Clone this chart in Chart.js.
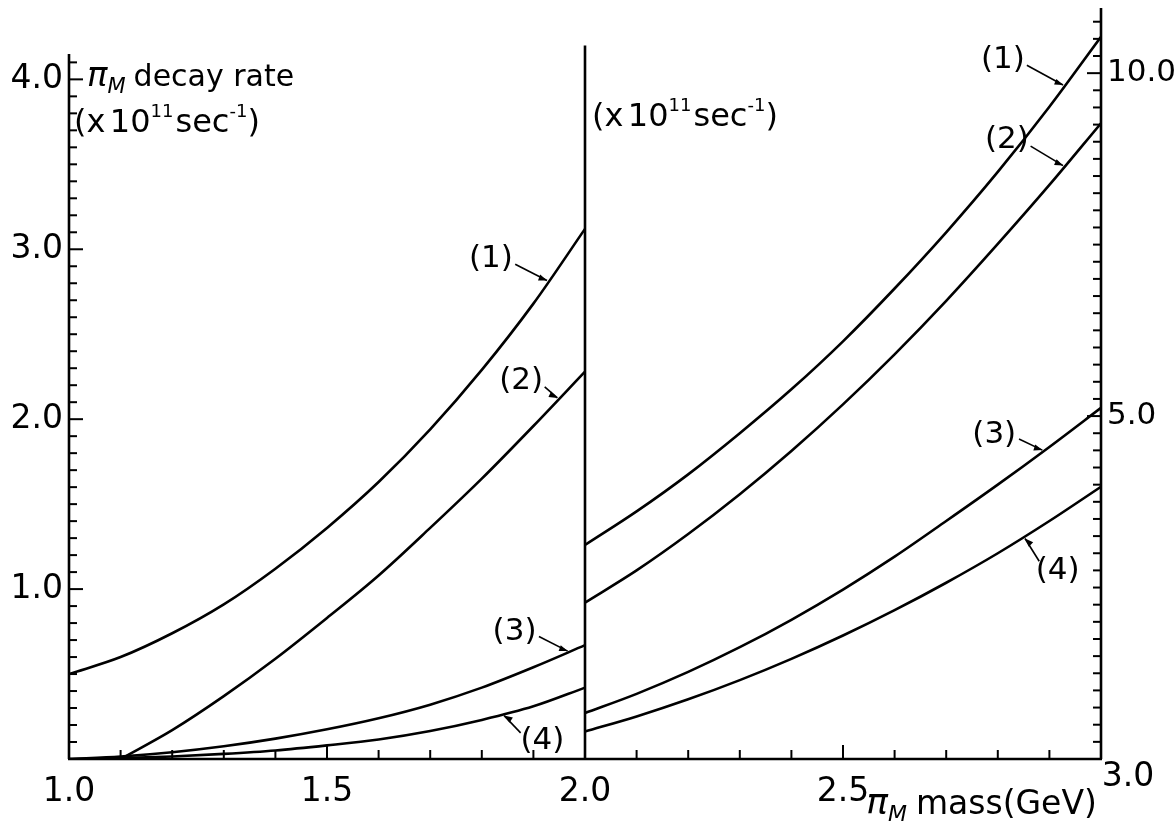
<!DOCTYPE html>
<html>
<head>
<meta charset="utf-8">
<script src="https://cdn.jsdelivr.net/npm/chart.js@4.4.0/dist/chart.umd.min.js"></script>
<style>
  html, body { margin: 0; padding: 0; background: #fff; }
  #wrap { position: relative; width: 1175px; height: 833px; }
</style>
</head>
<body>
<div id="wrap"><canvas id="decayChart"></canvas></div>
<script>
// pi_M mass (GeV) for the two halves of the plot
const massLow = [1.0, 1.1, 1.2, 1.3, 1.4, 1.5, 1.6, 1.7, 1.8, 1.9, 2.0];
const massHigh = [2.0, 2.1, 2.2, 2.3, 2.4, 2.5, 2.6, 2.7, 2.8, 2.9, 3.0];

// decay rates (x 10^11 sec^-1), left half read on the left axis
const rate1Low = [0.50, 0.60, 0.74, 0.91, 1.12, 1.36, 1.63, 1.94, 2.29, 2.68, 3.12];
const rate2Low = [null, 0.00, 0.17, 0.37, 0.59, 0.83, 1.08, 1.36, 1.65, 1.96, 2.28];
const rate3Low = [0.00, 0.015, 0.04, 0.075, 0.12, 0.175, 0.24, 0.32, 0.42, 0.54, 0.67];
const rate4Low = [0.00, 0.005, 0.015, 0.03, 0.05, 0.08, 0.115, 0.165, 0.23, 0.31, 0.42];

// right half read on the right axis
const rate1High = [3.12, 3.61, 4.15, 4.75, 5.39, 6.09, 6.86, 7.68, 8.56, 9.51, 10.53];
const rate2High = [2.28, 2.75, 3.28, 3.86, 4.49, 5.17, 5.90, 6.68, 7.51, 8.37, 9.27];
const rate3High = [0.67, 0.95, 1.27, 1.63, 2.03, 2.47, 2.95, 3.47, 4.00, 4.55, 5.12];
const rate4High = [0.40, 0.62, 0.87, 1.15, 1.46, 1.80, 2.17, 2.57, 3.00, 3.47, 3.97];

const curveNames = ['(1)', '(2)', '(3)', '(4)'];
const xTicks = [1.0, 1.5, 2.0, 2.5, 3.0];
const leftTicks = [1.0, 2.0, 3.0, 4.0];
const rightTicks = [5.0, 10.0];

// axis ranges
const X_MIN = 1.0, X_MAX = 3.0, X_SPLIT = 2.0;
const LEFT_MAX = 4.42, RIGHT_MAX = 10.95;

const FONT = "'DejaVu Sans', sans-serif";

// where the (n) tags sit relative to their curve
const tagLayout = [
    { half: 'low', curve: 0, at: 1.93, dx: -58, dy: -22 },
    { half: 'low', curve: 1, at: 1.95, dx: -38, dy: -18 },
    { half: 'low', curve: 2, at: 1.97, dx: -55, dy: -20 },
    { half: 'low', curve: 3, at: 1.84, dx: 40, dy: 26 },
    { half: 'high', curve: 0, at: 2.93, dx: -62, dy: -26 },
    { half: 'high', curve: 1, at: 2.93, dx: -58, dy: -26 },
    { half: 'high', curve: 2, at: 2.89, dx: -50, dy: -16 },
    { half: 'high', curve: 3, at: 2.85, dx: 34, dy: 34 }
];

const lowRates = [rate1Low, rate2Low, rate3Low, rate4Low];
const highRates = [rate1High, rate2High, rate3High, rate4High];

const toPoints = (xs, ys) => xs.map((m, i) => ({ x: m, y: ys[i] }));

const curveStyle = {
    borderColor: '#000',
    borderWidth: 2.6,
    pointRadius: 0,
    fill: false,
    cubicInterpolationMode: 'monotone'
};

const datasets = [];
lowRates.forEach((r, i) => datasets.push({
    label: curveNames[i] + ' low', data: toPoints(massLow, r), yAxisID: 'y', ...curveStyle
}));
highRates.forEach((r, i) => datasets.push({
    label: curveNames[i] + ' high', data: toPoints(massHigh, r), yAxisID: 'y2', ...curveStyle
}));

// read a value off a curve at mass m (linear between tabulated points)
function rateAt(xs, ys, m) {
    for (let i = 0; i < xs.length - 1; i++) {
        if (m >= xs[i] && m <= xs[i + 1]) {
            const a = ys[i] == null ? 0 : ys[i];
            const t = (m - xs[i]) / (xs[i + 1] - xs[i]);
            return a + t * (ys[i + 1] - a);
        }
    }
    return ys[ys.length - 1];
}

// draw a run of text pieces: {t, size, italic, dy}
function drawRich(ctx, parts, x, y) {
    let cx = x;
    parts.forEach(p => {
        ctx.font = (p.italic ? 'italic ' : '') + p.size + 'px ' + FONT;
        ctx.fillText(p.t, cx, y + (p.dy || 0));
        cx += ctx.measureText(p.t).width + (p.gap || 0);
    });
}

const unitParts = [
    { t: '(x', size: 32 }, { t: ' ', size: 14 }, { t: '10', size: 32 },
    { t: '11', size: 18, dy: -15, gap: 2 }, { t: 'sec', size: 32 },
    { t: '-1', size: 18, dy: -15 }, { t: ')', size: 32 }
];

// drop the label half-heights Chart.js reserves at the axis ends
const noEndPadding = s => {
    s.paddingTop = 0; s.paddingBottom = 0; s.paddingLeft = 0; s.paddingRight = 0;
};

const tickFont = { family: FONT, size: 33 };

const paperPlugin = {
    id: 'paper',
    afterDraw(chart) {
        const { ctx, scales: { x, y, y2 } } = chart;
        const px = v => x.getPixelForValue(v);
        const pyL = v => y.getPixelForValue(v);
        const pyR = v => y2.getPixelForValue(v);
        const seg = (x1, y1, x2, y2_) => {
            ctx.beginPath(); ctx.moveTo(x1, y1); ctx.lineTo(x2, y2_); ctx.stroke();
        };

        ctx.save();
        ctx.strokeStyle = '#000';
        ctx.fillStyle = '#000';
        ctx.lineCap = 'butt';

        // frame lines
        ctx.lineWidth = 2.6;
        const x0 = px(X_MIN), x1 = px(X_MAX), xs = px(X_SPLIT), yb = pyL(0);
        seg(x0 - 1, yb, x1 + 1, yb);
        seg(x0, yb, x0, pyL(4.15));
        seg(x1, yb, x1, pyR(RIGHT_MAX));
        seg(xs, yb, xs, pyL(4.2));

        // inward ticks
        ctx.lineWidth = 2;
        for (let k = 1; k <= 41; k++) {
            const v = k / 10, len = k % 10 === 0 ? 14 : 8;
            seg(x0, pyL(v), x0 + len, pyL(v));
        }
        for (let k = 1; k <= 43; k++) {
            const v = k / 4, len = k % 20 === 0 ? 14 : 8;
            seg(x1, pyR(v), x1 - len, pyR(v));
        }
        for (let k = 1; k < 20; k++) {
            if (k === 10) continue;
            const v = X_MIN + k / 10, len = k % 5 === 0 ? 14 : 9;
            seg(px(v), yb, px(v), yb - len);
        }

        // last x label sits up and to the right of its tick, clear of the caption
        ctx.font = tickFont.size + 'px ' + FONT;
        ctx.textAlign = 'center';
        ctx.textBaseline = 'top';
        const lastX = xTicks[xTicks.length - 1];
        ctx.fillText(lastX.toFixed(1), px(lastX) + 27, yb + 2);

        // axis captions
        ctx.textBaseline = 'alphabetic';
        ctx.textAlign = 'left';
        drawRich(ctx, [
            { t: 'π', size: 34, italic: true },
            { t: 'M', size: 21, italic: true, dy: 7, gap: 8 },
            { t: 'decay rate', size: 30 }
        ], x0 + 18, pyL(4.0) + 7);
        drawRich(ctx, unitParts, x0 + 5, pyL(4.0) + 53);
        drawRich(ctx, unitParts, xs + 7, pyL(4.0) + 47);
        drawRich(ctx, [
            { t: 'π', size: 36, italic: true },
            { t: 'M', size: 22, italic: true, dy: 7, gap: 9 },
            { t: 'mass(GeV)', size: 33 }
        ], px(2.545), yb + 55);

        // curve tags with arrows
        ctx.font = '31px ' + FONT;
        ctx.textAlign = 'center';
        ctx.textBaseline = 'middle';
        tagLayout.forEach(tag => {
            const xsArr = tag.half === 'low' ? massLow : massHigh;
            const ysArr = (tag.half === 'low' ? lowRates : highRates)[tag.curve];
            const yPix = tag.half === 'low' ? pyL : pyR;
            const cx = px(tag.at), cy = yPix(rateAt(xsArr, ysArr, tag.at));
            const lx = cx + tag.dx, ly = cy + tag.dy;
            ctx.fillText(curveNames[tag.curve], lx, ly);
            const ang = Math.atan2(cy - ly, cx - lx);
            const sx = lx + Math.cos(ang) * 26, sy = ly + Math.sin(ang) * 14;
            const ex = cx - Math.cos(ang) * 2, ey = cy - Math.sin(ang) * 2;
            ctx.lineWidth = 1.6;
            seg(sx, sy, ex, ey);
            ctx.beginPath();
            ctx.moveTo(ex, ey);
            ctx.lineTo(ex - 9 * Math.cos(ang - 0.35), ey - 9 * Math.sin(ang - 0.35));
            ctx.lineTo(ex - 9 * Math.cos(ang + 0.35), ey - 9 * Math.sin(ang + 0.35));
            ctx.closePath();
            ctx.fill();
        });
        ctx.restore();
    }
};

new Chart(document.getElementById('decayChart'), {
    type: 'line',
    data: { datasets },
    plugins: [paperPlugin],
    options: {
        responsive: true,
        maintainAspectRatio: false,
        animation: false,
        layout: { padding: { top: 8, left: 0, right: 0, bottom: 0 } },
        plugins: { legend: { display: false }, tooltip: { enabled: false } },
        scales: {
            x: {
                type: 'linear', min: X_MIN, max: X_MAX,
                grid: { display: false, drawTicks: false }, border: { display: false },
                afterFit: s => { s.height = 74; noEndPadding(s); },
                afterBuildTicks: s => { s.ticks = xTicks.map(v => ({ value: v })); },
                ticks: {
                    color: '#000', padding: 14, maxRotation: 0,
                    font: tickFont,
                    // the last label is drawn by the plugin, offset
                    callback: (v, i, all) => (i === all.length - 1 ? '' : v.toFixed(1))
                }
            },
            y: {
                position: 'left', min: 0, max: LEFT_MAX,
                grid: { display: false, drawTicks: false }, border: { display: false },
                afterFit: s => { s.width = 69; noEndPadding(s); },
                afterBuildTicks: s => { s.ticks = leftTicks.map(v => ({ value: v })); },
                ticks: {
                    color: '#000', padding: 6,
                    font: tickFont,
                    callback: v => v.toFixed(1)
                }
            },
            y2: {
                position: 'right', min: 0, max: RIGHT_MAX,
                grid: { display: false, drawTicks: false }, border: { display: false },
                afterFit: s => { s.width = 74; noEndPadding(s); },
                afterBuildTicks: s => { s.ticks = rightTicks.map(v => ({ value: v })); },
                ticks: {
                    color: '#000', padding: 6,
                    font: { family: FONT, size: 31 },
                    callback: v => v.toFixed(1)
                }
            }
        }
    }
});
</script>
</body>
</html>
